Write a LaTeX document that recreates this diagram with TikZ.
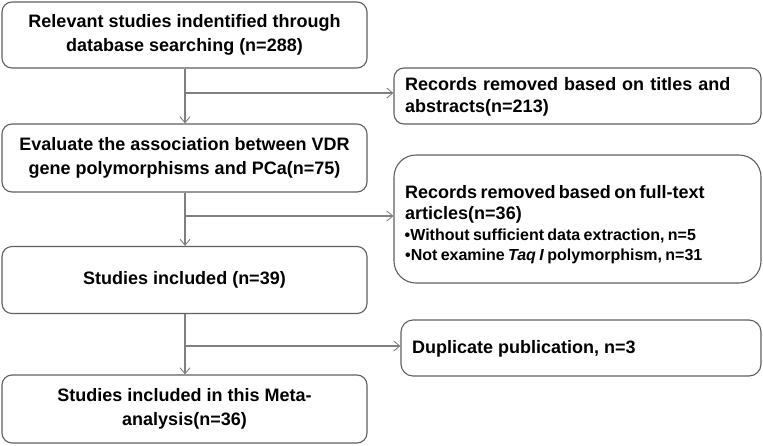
\documentclass[tikz,border=0pt]{standalone}
\usepackage{fontspec}
\setmainfont{Liberation Sans}
\usetikzlibrary{arrows.meta}
\definecolor{boxline}{HTML}{5F5F5F}
\definecolor{conline}{HTML}{808080}
\begin{document}
\begin{tikzpicture}[x=1pt,y=-1pt,
  lbox/.style={draw=boxline,line width=1.1pt,rounded corners=10pt,minimum width=365pt,align=center,inner sep=0pt,
    font=\fontsize{18}{24}\selectfont\bfseries},
  rbox/.style={draw=boxline,line width=1.1pt,rounded corners=10pt,inner sep=0pt},
  conn/.style={draw=conline,line width=1.1pt},
  arr/.style={conn,-{Straight Barb[length=6pt,width=10pt,line width=0.9pt]}}]
\useasboundingbox (0,0) rectangle (763,445);
% left column
\node[lbox,minimum height=66pt] (b1) at (184.5,35) {Relevant studies indentified through\\database searching (n=288)};
\node[lbox,minimum height=68pt] (b2) at (184.5,158) {Evaluate the association between VDR\\gene polymorphisms and PCa(n=75)};
\node[lbox,minimum height=67pt] (b3) at (184.5,280) {Studies included (n=39)};
\node[lbox,minimum height=68pt] (b4) at (184.5,409) {Studies included in this Meta-\\analysis(n=36)};
% right column
\node[rbox,minimum width=367pt,minimum height=56pt] (r1) at (577.5,96) {};
\node[anchor=west,inner sep=0pt,text width=345pt,align=left,font=\fontsize{18}{22}\selectfont\bfseries] (t1) at (405,97) {Records removed based on titles and\\abstracts(n=213)};
\node[rbox,rounded corners=22pt,minimum width=367pt,minimum height=128pt] (r2) at (577.5,219) {};
\node[anchor=west,inner sep=0pt,text width=345pt,align=left] (t2) at (405,225) {{\fontsize{18}{21}\selectfont\bfseries Records removed based on full-text\\articles(n=36)\par}{\fontsize{16}{20.5}\selectfont\bfseries \hspace*{-0.5pt}•Without sufficient data extraction, n=5\\•Not examine \textit{Taq I} polymorphism, n=31\par}};
\node[rbox,rounded corners=12pt,minimum width=360pt,minimum height=56pt] (r3) at (581,348) {};
\node[anchor=west,inner sep=0pt,font=\fontsize{18}{22}\selectfont\bfseries] (t3) at (412,349) {Duplicate publication, n=3};
% connectors
\coordinate (j1) at (185,93);
\coordinate (j2) at (185,216);
\coordinate (j3) at (185,346);
\draw[arr] (b1.south -| j1) -- (b2.north -| j1);
\draw[arr] (j1) -- (j1 -| r1.west);
\draw[arr] (b2.south -| j2) -- (b3.north -| j2);
\draw[arr] (j2) -- (j2 -| r2.west);
\draw[arr] (b3.south -| j3) -- (b4.north -| j3);
\draw[arr] (j3) -- (j3 -| r3.west);
\end{tikzpicture}
\end{document}
